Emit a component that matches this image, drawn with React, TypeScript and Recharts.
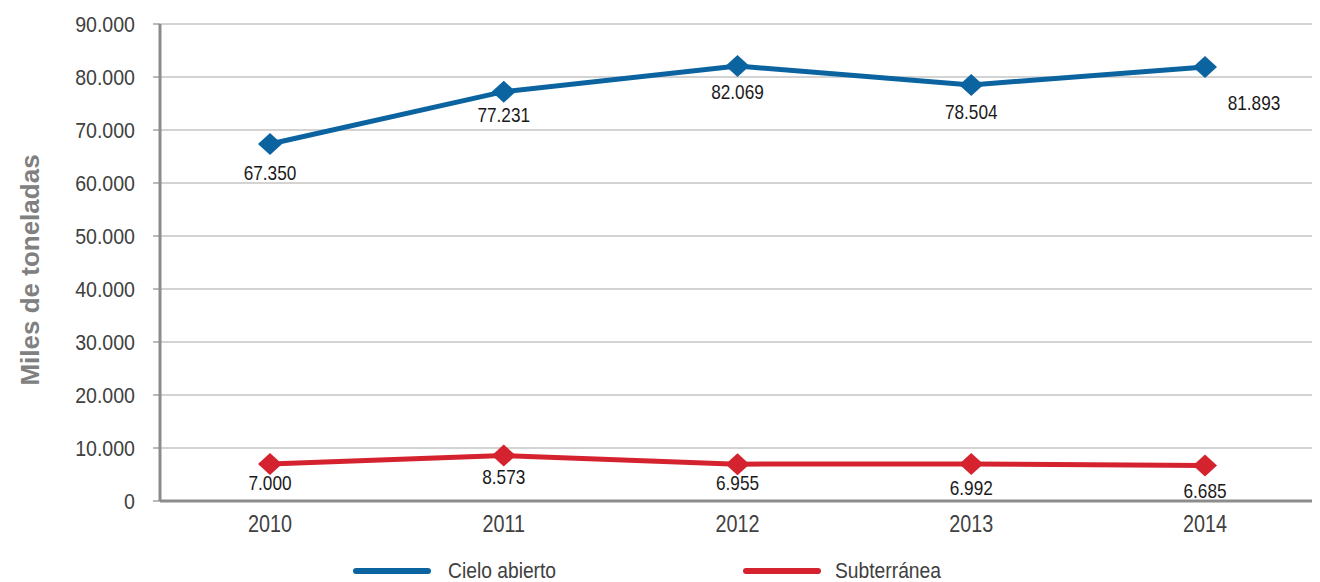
import React from 'react';
import { LineChart, Line, XAxis, YAxis, CartesianGrid, LabelList } from 'recharts';

const years = ['2010', '2011', '2012', '2013', '2014'];
const cieloAbierto = [67350, 77231, 82069, 78504, 81893];
const subterranea = [7000, 8573, 6955, 6992, 6685];
const yTicks = [0, 10000, 20000, 30000, 40000, 50000, 60000, 70000, 80000, 90000];

const data = years.map((y, i) => ({ year: y, cielo: cieloAbierto[i], sub: subterranea[i] }));

const FONT = '"Liberation Sans", Arial, sans-serif';
const BLUE = '#0b64a0';
const RED = '#d4232f';

const fmt = (v: number) => {
  if (v === 0) return '0';
  const th = Math.floor(v / 1000);
  const rest = v % 1000;
  return th > 0 ? `${th}.${String(rest).padStart(3, '0')}` : String(rest);
};

const Diamond = (color: string) => (props: any) => {
  const { cx, cy } = props;
  if (cx == null || cy == null) return null;
  return <path d={`M${cx - 12},${cy} L${cx},${cy - 11} L${cx + 12},${cy} L${cx},${cy + 11} Z`} fill={color} />;
};

const blueLabelOffsets = [[0, 29], [0, 23], [0, 26], [0, 27], [49, 36]];
const redLabelOffsets = [[0, 19], [0, 21], [0, 19], [0, 24], [0, 25]];

const makeLabel = (offsets: number[][]) => (props: any) => {
  const { x, y, value, index } = props;
  const [dx, dy] = offsets[index] || [0, 24];
  return (
    <text
      transform={`translate(${x + dx},${y + dy}) scale(0.82,1)`}
      x={0}
      y={0}
      textAnchor="middle"
      dominantBaseline="central"
      fontSize={21}
      fontFamily={FONT}
      fill="#1a1a1a"
    >
      {fmt(value)}
    </text>
  );
};

const XTick = (props: any) => {
  const { x, y, payload } = props;
  return (
    <text transform={`translate(${x},${y}) scale(0.86,1)`} x={0} y={0} dy={13} textAnchor="middle" fontSize={23} fontFamily={FONT} fill="#404040">
      {payload.value}
    </text>
  );
};

const YTick = (props: any) => {
  const { x, y, payload } = props;
  return (
    <text transform={`translate(${x},${y}) scale(0.89,1)`} x={0} y={0} textAnchor="end" dominantBaseline="central" fontSize={22} fontFamily={FONT} fill="#404040">
      {fmt(payload.value)}
    </text>
  );
};

const LegendOverlay = () => (
  <div style={{ position: 'absolute', left: 0, top: 559, width: 1320, height: 24, fontFamily: FONT, fontSize: 22, color: '#404040' }}>
    <div style={{ position: 'absolute', left: 353, top: 9, width: 78, height: 6, borderRadius: 3, background: BLUE }} />
    <div style={{ position: 'absolute', left: 448, top: 0, lineHeight: '24px', whiteSpace: 'nowrap', transform: 'scaleX(0.875)', transformOrigin: 'left center' }}>Cielo abierto</div>
    <div style={{ position: 'absolute', left: 743, top: 9, width: 78, height: 6, borderRadius: 3, background: RED }} />
    <div style={{ position: 'absolute', left: 835, top: 0, lineHeight: '24px', whiteSpace: 'nowrap', transform: 'scaleX(0.875)', transformOrigin: 'left center' }}>Subterránea</div>
  </div>
);

export default function App() {
  return (
    <div style={{ position: 'absolute', left: 0, top: 0, width: 1320, height: 582, background: '#fff' }}>
      <LineChart width={1320} height={582} data={data} margin={{ top: 24, right: 8, bottom: 51, left: 0 }}>
        <CartesianGrid vertical={false} stroke="#a8a8a8" strokeWidth={1.2} />
        <XAxis
          dataKey="year"
          scale="point"
          height={30}
          padding={{ left: 110, right: 107 }}
          axisLine={{ stroke: '#8c8c8c', strokeWidth: 3 }}
          tickLine={false}
          tickMargin={12}
          tick={<XTick />}
        />
        <YAxis
          width={160}
          domain={[0, 90000]}
          ticks={yTicks}
          interval={0}
          axisLine={{ stroke: '#8c8c8c', strokeWidth: 3 }}
          tickLine={{ stroke: '#8c8c8c', strokeWidth: 1.2 }}
          tickSize={7}
          tickMargin={18}
          tick={<YTick />}
          label={{
            content: () => (
              <text transform="translate(30,270) rotate(-90)" textAnchor="middle" dominantBaseline="central" fontSize={26} fontWeight="bold" fontFamily={FONT} fill="#808080">
                Miles de toneladas
              </text>
            ),
          }}
        />
        <Line dataKey="cielo" name="Cielo abierto" stroke={BLUE} strokeWidth={5} dot={Diamond(BLUE)} activeDot={false} isAnimationActive={false}>
          <LabelList dataKey="cielo" content={makeLabel(blueLabelOffsets)} />
        </Line>
        <Line dataKey="sub" name="Subterránea" stroke={RED} strokeWidth={5} dot={Diamond(RED)} activeDot={false} isAnimationActive={false}>
          <LabelList dataKey="sub" content={makeLabel(redLabelOffsets)} />
        </Line>
      </LineChart>
      <LegendOverlay />
    </div>
  );
}
